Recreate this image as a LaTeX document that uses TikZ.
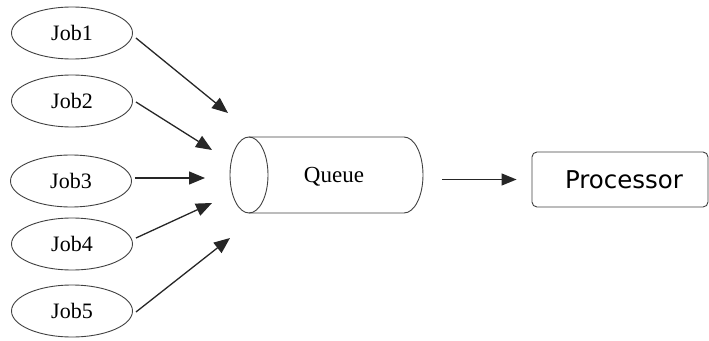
\documentclass[tikz,border=0pt]{standalone}
\usepackage{fontspec}
\setmainfont{Liberation Serif}
\newfontfamily\procfont{DejaVu Sans}
\usetikzlibrary{arrows.meta,shapes.geometric}
\tikzset{
  outline/.style={draw=black!75, line width=0.9pt},
  job/.style={outline, ellipse, minimum width=121pt, minimum height=52pt,
    inner sep=0pt, font=\fontsize{22}{24}\selectfont},
  procbox/.style={outline, rectangle, rounded corners=5pt,
    minimum width=176pt, minimum height=55pt, inner sep=0pt,
    font=\procfont\fontsize{24.5}{26}\selectfont},
  flow/.style={draw=black!85, line width=1.3pt, -{Triangle[length=16pt,width=13pt]}},
}
\begin{document}
\begin{tikzpicture}[x=1pt,y=-1pt]
  \useasboundingbox (0,0) rectangle (709,340);
  % job ellipses
  \node[job] (job1) at (72,33)  {Job1};
  \node[job] (job2) at (72,101) {Job2};
  \node[job] (job3) at (71,181) {Job3};
  \node[job] (job4) at (72,244) {Job4};
  \node[job] (job5) at (72,311) {Job5};
  % queue: a horizontal cylinder, open face on the left
  \node[minimum width=193pt, minimum height=76pt, inner sep=0pt] (queue) at (326.5,175) {};
  \draw[outline] (249,137) -- (404,137) arc[start angle=90, end angle=-90, x radius=19, y radius=-38]
    -- (249,213);
  \draw[outline] (249,175) ellipse[x radius=19, y radius=38];
  \node[font=\fontsize{23}{25}\selectfont] (qlabel) at (334,177) {Queue};
  % processor
  \node[procbox] (proc) at (620,179.5) {\hspace{8pt}Processor};
  % free ends of the incoming arrows
  \coordinate (t1) at (228,113);
  \coordinate (t2) at (212,150);
  \coordinate (t3) at (205,178);
  \coordinate (t4) at (212,203);
  \coordinate (t5) at (230,238);
  \draw[flow] ([shift={(3,5)}]job1.east) -- (t1);
  \draw[flow] ([shift={(3,1)}]job2.east) -- (t2);
  \draw[flow] ([shift={(3,-3)}]job3.east) -- (t3);
  \draw[flow] ([shift={(3,-6)}]job4.east) -- (t4);
  \draw[flow] ([shift={(3,1)}]job5.east) -- (t5);
  % queue to processor
  \draw[flow, -{Triangle[length=15pt,width=12pt]}, shorten <=19pt, shorten >=15pt]
    (queue.east |- proc.west) -- (proc.west);
\end{tikzpicture}
\end{document}
